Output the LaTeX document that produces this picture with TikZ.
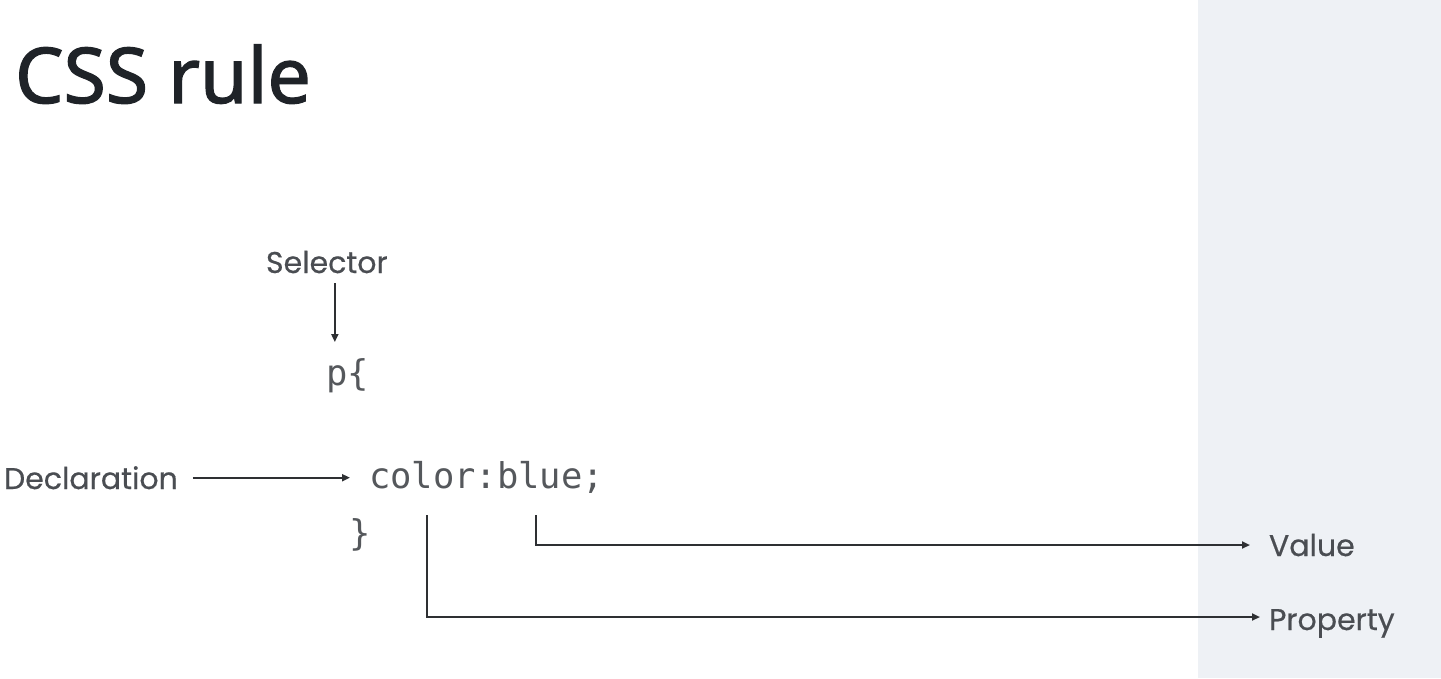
\documentclass[tikz,border=0pt]{standalone}
\usepackage{fontspec}
\usetikzlibrary{arrows.meta}
\newfontface\titlefont{Noto Sans}[FakeBold=1.6]
\newfontface\labelfont{Poppins}[FakeBold=0.5]
\newfontfamily\codefont{DejaVu Sans Mono}
\definecolor{titleink}{HTML}{1F2328}
\definecolor{labelink}{HTML}{4A4D52}
\definecolor{codeink}{HTML}{55585C}
\definecolor{lineink}{HTML}{2E3033}
\definecolor{panelbg}{HTML}{EEF1F5}
\begin{document}
\begin{tikzpicture}[x=1pt,y=-1pt,
  every node/.style={inner sep=0pt,outer sep=0pt,anchor=base west},
  heading/.style={font=\titlefont\fontsize{77}{80}\selectfont,text=titleink},
  lbl/.style={font=\labelfont\fontsize{30}{34}\selectfont,text=labelink},
  codetxt/.style={font=\codefont\fontsize{35.5}{40}\selectfont,text=codeink},
  arr/.style={draw=lineink,line width=2pt,-{Triangle[length=8pt,width=7pt]}}]
  % canvas and right-hand panel
  \fill[white] (0,0) rectangle (1441,678);
  \fill[panelbg] (1198,0) rectangle (1441,678);

  % title
  \node[heading] (title) at (15,103) {CSS rule};

  % the rule itself, one monospace cell = 21.37pt
  \node[codetxt] (pb) at (326,385) {p\{};
  \node[codetxt] (prop) at (369,488) {color};
  \node[codetxt] (colon) at (475.9,488) {:};
  \node[codetxt] (val) at (497.2,488) {blue};
  \node[codetxt] (semi) at (582.7,488) {;};
  \node[codetxt] (close) at (349,545) {\}};

  % labels
  \node[lbl] (sel) at (266,273) {Selector};
  \node[lbl] (decl) at (4,489) {Declaration};
  \node[lbl] (value) at (1269,556) {Value};
  \node[lbl] (property) at (1269,630) {Property};

  % connectors
  \draw[arr] ([xshift=8pt,yshift=-10pt]sel.south) -- ([xshift=8pt,yshift=16pt]sel.south |- pb.north);
  \draw[arr] ([xshift=15pt]decl.east) -- ([xshift=-19pt]decl.east -| prop.west);
  \draw[arr,line cap=rect] ([xshift=-4pt,yshift=-27pt]val.south) |- ([xshift=-19pt,yshift=11pt]value.base west);
  \draw[arr,line cap=rect] ([xshift=4.6pt,yshift=-27pt]prop.south) |- ([xshift=-9pt,yshift=13pt]property.base west);
\end{tikzpicture}
\end{document}
